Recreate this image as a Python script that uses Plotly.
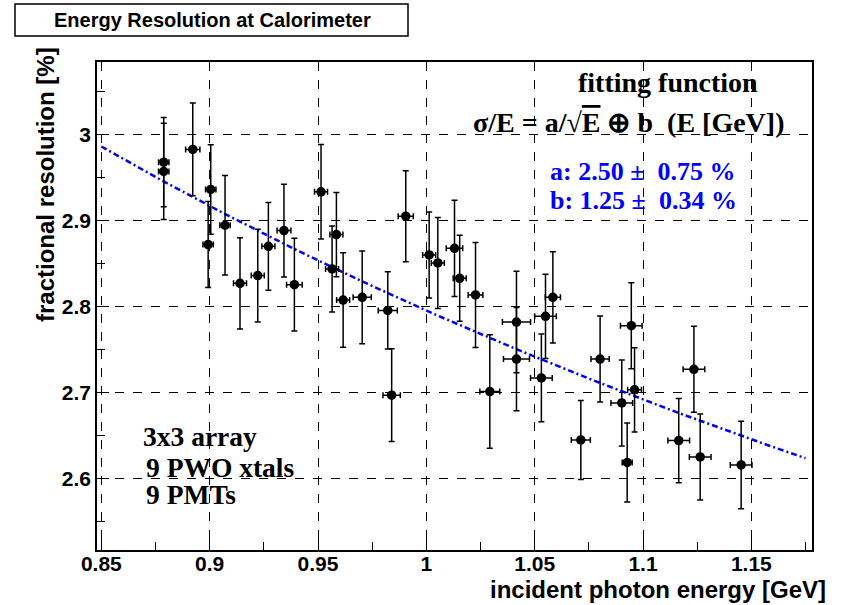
import numpy as np
import plotly.graph_objects as go

# ---------------- data ----------------
energy = [0.8788, 0.8788, 0.8922, 0.8993, 0.9005, 0.9071, 0.9140, 0.9222, 0.9271, 0.9343,
          0.9391, 0.9514, 0.9565, 0.9585, 0.9616, 0.9704, 0.9822, 0.9840, 0.9905, 1.0013,
          1.0053, 1.0130, 1.0154, 1.0227, 1.0293, 1.0416, 1.0416, 1.0531, 1.0550, 1.0584,
          1.0713, 1.0802, 1.0902, 1.0927, 1.0946, 1.0961, 1.1165, 1.1235, 1.1264, 1.1453]
energy_err = [0.0024, 0.0024, 0.0033, 0.0024, 0.0024, 0.0024, 0.0030, 0.0030, 0.0030, 0.0032,
              0.0036, 0.0030, 0.0030, 0.0030, 0.0030, 0.0042, 0.0044, 0.0040, 0.0035, 0.0030,
              0.0030, 0.0038, 0.0030, 0.0034, 0.0046, 0.0065, 0.0060, 0.0050, 0.0050, 0.0035,
              0.0044, 0.0042, 0.0050, 0.0023, 0.0050, 0.0032, 0.0050, 0.0050, 0.0050, 0.0050]
resolution = [2.9677, 2.9569, 2.9825, 2.8718, 2.9359, 2.8943, 2.8267, 2.8357, 2.8698, 2.8881,
              2.8252, 2.9332, 2.8435, 2.8834, 2.8073, 2.8104, 2.7952, 2.6966, 2.9048, 2.8598,
              2.8504, 2.8675, 2.8326, 2.8132, 2.7008, 2.7817, 2.7386, 2.7167, 2.7883, 2.8104,
              2.6445, 2.7386, 2.6876, 2.6183, 2.7774, 2.7028, 2.6438, 2.7267, 2.6248, 2.6154]
resolution_err = [0.052, 0.056, 0.054, 0.050, 0.052, 0.058, 0.053, 0.054, 0.051, 0.054,
                  0.054, 0.055, 0.050, 0.049, 0.055, 0.054, 0.045, 0.054, 0.053, 0.050,
                  0.053, 0.056, 0.050, 0.061, 0.066, 0.059, 0.060, 0.051, 0.049, 0.053,
                  0.046, 0.050, 0.050, 0.046, 0.050, 0.049, 0.049, 0.050, 0.050, 0.051]

# fit parameters (sigma/E = a/sqrt(E) (+) b)
fit_a = 2.50
fit_b = 1.25
fit_range = [0.85, 1.175]

x_tickvals = [0.85, 0.90, 0.95, 1.00, 1.05, 1.10, 1.15]
x_ticktext = ["0.85", "0.9", "0.95", "1", "1.05", "1.1", "1.15"]
y_tickvals = [2.6, 2.7, 2.8, 2.9, 3.0]
y_ticktext = ["2.6", "2.7", "2.8", "2.9", "3"]

# ---------------- layout geometry ----------------
W, H = 843, 605
L, R, T, B = 97, 812, 62, 550


def px(x):
    return (x - L) / (R - L)


def py(y):
    return (B - y) / (B - T)


fit_x = np.linspace(fit_range[0], fit_range[1], 200)
fit_y = np.sqrt(fit_a ** 2 / fit_x + fit_b ** 2)

fig = go.Figure()

fig.add_trace(go.Scatter(
    x=fit_x, y=fit_y, mode="lines",
    line=dict(color="#0000ff", width=2.5, dash="6px,3px,2px,3px"),
    hoverinfo="skip", showlegend=False,
))

fig.add_trace(go.Scatter(
    x=energy, y=resolution, mode="markers",
    marker=dict(color="black", size=9.5),
    error_x=dict(type="data", array=energy_err, color="black", thickness=1.5, width=3),
    error_y=dict(type="data", array=resolution_err, color="black", thickness=1.5, width=3),
    showlegend=False,
))

axis_common = dict(
    showline=True, linecolor="black", linewidth=1.5, mirror=True,
    ticks="inside", ticklen=12, tickwidth=1, tickcolor="black",
    showgrid=True, gridcolor="black", gridwidth=1, griddash="dash",
    zeroline=False,
    tickfont=dict(family="Liberation Sans", size=21, color="black", weight="bold"),
)

fig.update_xaxes(
    range=[0.848, 1.178], tickvals=x_tickvals, ticktext=x_ticktext,
    minor=dict(dtick=0.025, tick0=0.85, ticks="inside", ticklen=8, tickcolor="black", showgrid=False),
    ticklabelstandoff=-6,
    **axis_common,
)
fig.update_yaxes(
    range=[2.5165, 3.0842], tickvals=y_tickvals, ticktext=y_ticktext,
    minor=dict(dtick=0.05, tick0=2.5, ticks="inside", ticklen=8, tickcolor="black", showgrid=False),
    **axis_common,
)

serif_big = dict(family="Liberation Serif", size=28, color="black", weight="bold")
serif = dict(family="Liberation Serif", size=27.5, color="black", weight="bold")
blue_serif = dict(family="Liberation Serif", size=26, color="#0000ff", weight="bold")
sans_title = dict(family="Liberation Sans", size=24, color="black", weight="bold")

annotations = [
    dict(x=px(212), y=py(20), text="Energy Resolution at Calorimeter",
         font=dict(family="Liberation Sans", size=20, color="black", weight="bold")),
    dict(x=px(45), y=py(185), text="fractional resolution [%]", textangle=-90, font=sans_title),
    dict(x=px(828), y=py(589), text="incident photon energy [GeV]", xanchor="right",
         font=sans_title),
    dict(x=px(668), y=py(82), text="fitting function", font=serif_big),
    dict(x=px(628), y=py(122),
         text="σ/E = a/√<span style='text-decoration:overline'>E</span> ⊕ b  (E [GeV])",
         font=serif_big),
    dict(x=px(548), y=py(171), text="a: 2.50 ±  0.75 %", xanchor="left", font=blue_serif),
    dict(x=px(548), y=py(200), text="b: 1.25 ±  0.34 %", xanchor="left", font=blue_serif),
    dict(x=px(141), y=py(436), text="3x3 array", xanchor="left", font=serif),
    dict(x=px(144), y=py(467), text="9 PWO xtals", xanchor="left", font=serif),
    dict(x=px(144), y=py(494), text="9 PMTs", xanchor="left", font=serif),
]
for a in annotations:
    a.setdefault("xanchor", "center")
    a.setdefault("yanchor", "middle")
    a.update(xref="paper", yref="paper", showarrow=False)

fig.update_layout(
    width=W, height=H,
    margin=dict(l=L, r=W - R, t=T, b=H - B),
    paper_bgcolor="white", plot_bgcolor="white",
    annotations=annotations,
    shapes=[dict(type="rect", xref="paper", yref="paper",
                 x0=px(15), x1=px(408), y0=py(36), y1=py(4),
                 line=dict(color="black", width=1.5), fillcolor="rgba(0,0,0,0)")],
)

fig.write_html("out.html", config={"displayModeBar": False},
               post_script="document.body.style.margin='0px';")
